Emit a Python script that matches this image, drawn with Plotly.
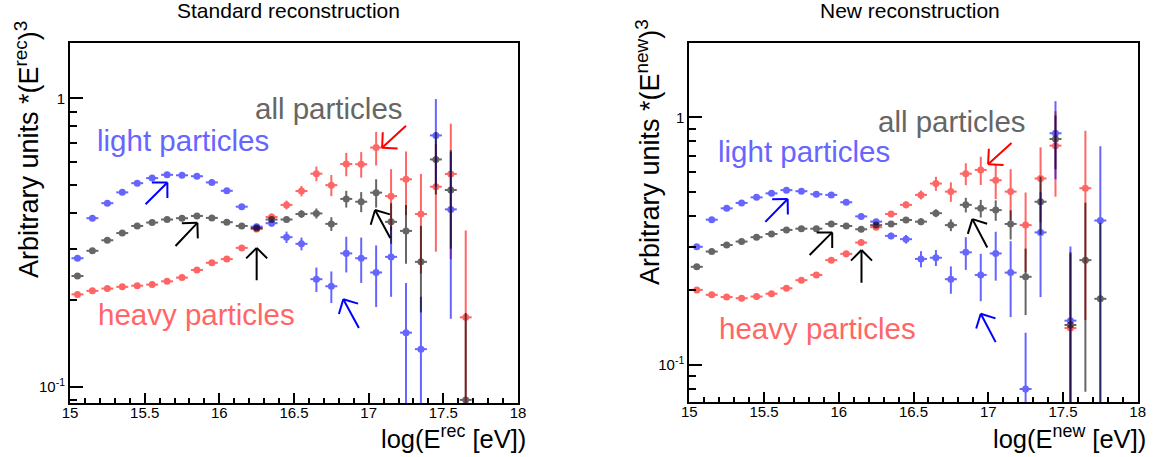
import numpy as np
import plotly.graph_objects as go

# ---------------- data ----------------
E_std = [15.05, 15.15, 15.25, 15.35, 15.45, 15.55, 15.65, 15.75, 15.85, 15.95,
         16.05, 16.15, 16.25, 16.35, 16.45, 16.55, 16.65, 16.75, 16.85, 16.95,
         17.05, 17.15, 17.25, 17.35, 17.45, 17.55, 17.65]
light_std = [0.279, 0.384, 0.433, 0.472, 0.508, 0.529, 0.543, 0.541, 0.537, 0.511,
             0.478, 0.421, 0.359, 0.369, 0.330, 0.313, 0.236, 0.223, 0.290, 0.279,
             0.249, 0.282, 0.154, 0.135, 0.744, 0.412, None]
light_std_err = [0.004, 0.004, 0.004, 0.004, 0.004, 0.004, 0.004, 0.004, 0.004, 0.004,
                 0.005, 0.006, 0.008, 0.010, 0.015, 0.016, 0.023, 0.028, 0.041, 0.050,
                 0.060, 0.077, 0.075, 0.070, 0.250, 0.240, 0]
heavy_std = [0.209, 0.215, 0.219, 0.222, 0.224, 0.226, 0.232, 0.239, 0.254, 0.269,
             0.277, 0.303, 0.352, 0.388, 0.427, 0.477, 0.548, 0.500, 0.592, 0.591,
             0.675, 0.458, 0.524, 0.397, 0.494, 0.547, 0.174]
heavy_std_err = [0.003, 0.003, 0.003, 0.003, 0.003, 0.003, 0.003, 0.003, 0.003, 0.003,
                 0.004, 0.005, 0.007, 0.010, 0.015, 0.020, 0.032, 0.042, 0.055, 0.060,
                 0.090, 0.110, 0.130, 0.150, 0.200, 0.270, 0.174]
all_std = [0.242, 0.296, 0.322, 0.341, 0.361, 0.371, 0.380, 0.384, 0.391, 0.385,
           0.372, 0.361, 0.355, 0.380, 0.380, 0.397, 0.399, 0.367, 0.448, 0.438,
           0.471, 0.373, 0.347, 0.271, 0.614, 0.481, 0.090]
all_std_err = [0.003, 0.003, 0.003, 0.003, 0.003, 0.003, 0.003, 0.003, 0.003, 0.003,
               0.003, 0.004, 0.005, 0.006, 0.008, 0.012, 0.016, 0.020, 0.030, 0.035,
               0.053, 0.060, 0.080, 0.090, 0.150, 0.180, 0.090]

E_new = [15.05, 15.15, 15.25, 15.35, 15.45, 15.55, 15.65, 15.75, 15.85, 15.95,
         16.05, 16.15, 16.25, 16.35, 16.45, 16.55, 16.65, 16.75, 16.85, 16.95,
         17.05, 17.15, 17.25, 17.35, 17.45, 17.55, 17.65, 17.75]
light_new = [0.300, 0.386, 0.429, 0.451, 0.475, 0.493, 0.508, 0.503, 0.489, 0.486,
             0.454, 0.398, 0.379, 0.332, 0.322, 0.268, 0.271, 0.222, 0.285, 0.231,
             0.282, 0.236, 0.080, 0.343, 0.862, 0.151, None, 0.383]
light_new_err = [0.004, 0.004, 0.004, 0.004, 0.004, 0.004, 0.004, 0.004, 0.004, 0.004,
                 0.005, 0.006, 0.007, 0.010, 0.013, 0.020, 0.020, 0.028, 0.043, 0.050,
                 0.063, 0.080, 0.055, 0.155, 0.300, 0.150, 0, 0.380]
heavy_new = [0.201, 0.192, 0.188, 0.186, 0.189, 0.194, 0.204, 0.220, 0.231, 0.265,
             0.281, 0.312, 0.360, 0.407, 0.443, 0.486, 0.540, 0.501, 0.592, 0.613,
             0.557, 0.501, 0.367, 0.566, 0.768, 0.141, 0.517, None]
heavy_new_err = [0.003, 0.003, 0.003, 0.003, 0.003, 0.003, 0.003, 0.003, 0.003, 0.003,
                 0.004, 0.005, 0.007, 0.010, 0.014, 0.020, 0.035, 0.045, 0.060, 0.080,
                 0.090, 0.116, 0.130, 0.190, 0.290, 0.140, 0.365, 0]
all_new = [0.249, 0.287, 0.305, 0.315, 0.328, 0.338, 0.351, 0.355, 0.355, 0.371,
           0.364, 0.353, 0.367, 0.371, 0.385, 0.379, 0.410, 0.367, 0.443, 0.429,
           0.422, 0.371, 0.227, 0.456, 0.817, 0.145, 0.265, 0.185]
all_new_err = [0.003, 0.003, 0.003, 0.003, 0.003, 0.003, 0.003, 0.003, 0.003, 0.003,
               0.003, 0.004, 0.005, 0.006, 0.008, 0.012, 0.015, 0.020, 0.030, 0.035,
               0.040, 0.050, 0.068, 0.120, 0.200, 0.140, 0.187, 0.190]

x_ticks = [15, 15.5, 16, 16.5, 17, 17.5, 18]
x_tick_labels = ["15", "15.5", "16", "16.5", "17", "17.5", "18"]

# arrows: (tail E, tail value, head E, head value, colour)
arrows_std = [
    (15.496, 0.424, 15.652, 0.511, "#0000ff"),
    (15.697, 0.304, 15.853, 0.370, "#000000"),
    (16.25, 0.231, 16.25, 0.303, "#000000"),
    (16.94, 0.158, 16.83, 0.201, "#0000ff"),
    (17.15, 0.324, 17.043, 0.410, "#000000"),
    (17.26, 0.812, 17.09, 0.674, "#ff0000"),
]
arrows_new = [
    (15.499, 0.373, 15.658, 0.468, "#0000ff"),
    (15.795, 0.274, 15.956, 0.343, "#000000"),
    (16.152, 0.212, 16.152, 0.291, "#000000"),
    (16.999, 0.294, 16.894, 0.388, "#000000"),
    (17.055, 0.122, 16.95, 0.161, "#0000ff"),
    (17.166, 0.797, 16.999, 0.646, "#ff0000"),
]

FONT = "Liberation Sans, Arial, Helvetica, sans-serif"
C_LIGHT, C_HEAVY, C_ALL = "#0000ff", "#ff0000", "#000000"

W, H = 1158, 457
X_DOM_STD = [70 / W, 518 / W]
Y_DOM_STD = [1 - 403 / H, 1 - 42.7 / H]
Y_RNG_STD = [-1.0565, 0.193]
X_DOM_NEW = [689.3 / W, 1137.7 / W]
Y_DOM_NEW = [1 - 402.3 / H, 1 - 42.7 / H]
Y_RNG_NEW = [-1.1506, 0.301]
X_RNG = [15, 18]

fig = go.Figure()


def add_series(E, vals, errs, color, xa, ya):
    fig.add_trace(go.Scatter(
        x=E, y=vals, mode="markers", xaxis=xa, yaxis=ya, opacity=0.6,
        marker=dict(color=color, size=7),
        error_y=dict(type="data", array=errs, visible=True, color=color,
                     thickness=2, width=0),
        error_x=dict(type="constant", value=0.04, visible=True, copy_ystyle=False,
                     color=color, thickness=2, width=0),
        showlegend=False, hoverinfo="skip"))


add_series(E_std, heavy_std, heavy_std_err, C_HEAVY, "x", "y")
add_series(E_std, light_std, light_std_err, C_LIGHT, "x", "y")
add_series(E_std, all_std, all_std_err, C_ALL, "x", "y")
add_series(E_new, heavy_new, heavy_new_err, C_HEAVY, "x2", "y2")
add_series(E_new, light_new, light_new_err, C_LIGHT, "x2", "y2")
add_series(E_new, all_new, all_new_err, C_ALL, "x2", "y2")

minor_std = [0.09, 0.2, 0.3, 0.4, 0.5, 0.6, 0.7, 0.8, 0.9]
minor_new = [0.08, 0.09, 0.2, 0.3, 0.4, 0.5, 0.6, 0.7, 0.8, 0.9]


def xaxis_cfg(domain, anchor):
    return dict(domain=domain, anchor=anchor, range=X_RNG, showgrid=False,
                automargin=False,
                zeroline=False, showline=True, linecolor="black", linewidth=2,
                mirror=True, ticks="inside", ticklen=10, tickwidth=1.5, tickcolor="black",
                tickmode="array", tickvals=x_ticks, ticktext=x_tick_labels,
                ticklabelstandoff=-5,
                tickfont=dict(family=FONT, size=15, color="black"),
                minor=dict(ticks="inside", ticklen=5, tickwidth=1.5, tickcolor="black",
                           dtick=0.1, tick0=15, showgrid=False))


def yaxis_cfg(domain, anchor, rng, minor_vals):
    return dict(domain=domain, anchor=anchor, type="log", range=rng, showgrid=False,
                automargin=False,
                zeroline=False, showline=True, linecolor="black", linewidth=2,
                mirror=True, ticks="inside", ticklen=13, tickwidth=1.5, tickcolor="black",
                tickmode="array", tickvals=[0.1, 1], ticktext=["10<sup>-1</sup>", "1"],
                tickfont=dict(family=FONT, size=15, color="black"),
                minor=dict(ticks="inside", ticklen=7, tickwidth=1.5, tickcolor="black",
                           tickmode="array", tickvals=minor_vals, showgrid=False))


fig.update_layout(
    width=W, height=H, margin=dict(l=0, r=0, t=0, b=0, pad=0, autoexpand=False),
    paper_bgcolor="white", plot_bgcolor="white",
    font=dict(family=FONT, color="black"),
    xaxis=xaxis_cfg(X_DOM_STD, "y"),
    yaxis=yaxis_cfg(Y_DOM_STD, "x", Y_RNG_STD, minor_std),
    xaxis2=xaxis_cfg(X_DOM_NEW, "y2"),
    yaxis2=yaxis_cfg(Y_DOM_NEW, "x2", Y_RNG_NEW, minor_new),
)

ann = []


def add_arrows(arrs, xr, yr, xdom, ydom, yrng):
    # pixel scales of the panel (used only to orient the open arrow heads)
    sx = (xdom[1] - xdom[0]) * W / (X_RNG[1] - X_RNG[0])
    sy = (ydom[1] - ydom[0]) * H / (yrng[1] - yrng[0])
    head_len = 17.0
    for (tx, tv, hx, hv, col) in arrs:
        hy, ty = np.log10(hv), np.log10(tv)
        # shaft
        ann.append(dict(x=hx, y=hy, ax=tx, ay=ty, xref=xr, yref=yr, axref=xr, ayref=yr,
                        text="", showarrow=True, arrowhead=0, arrowwidth=2,
                        arrowcolor=col, standoff=0, startstandoff=0))
        # direction head->tail in screen pixels (y down)
        dx = (tx - hx) * sx
        dy = -(ty - hy) * sy
        n = np.hypot(dx, dy)
        ux, uy = dx / n, dy / n
        for ang in (np.pi / 4, -np.pi / 4):
            c, s = np.cos(ang), np.sin(ang)
            ox = (ux * c - uy * s) * head_len
            oy = (ux * s + uy * c) * head_len
            ann.append(dict(x=hx, y=hy, ax=float(ox), ay=float(oy), xref=xr, yref=yr,
                            text="", showarrow=True, arrowhead=0, arrowwidth=2,
                            arrowcolor=col, standoff=0, startstandoff=0))


add_arrows(arrows_std, "x", "y", X_DOM_STD, Y_DOM_STD, Y_RNG_STD)
add_arrows(arrows_new, "x2", "y2", X_DOM_NEW, Y_DOM_NEW, Y_RNG_NEW)

# labels inside plots
labels = [
    ("light particles", 15.167, -0.1446, "#6666ff", "x", "y"),
    ("all particles", 16.226, -0.0336, "#666666", "x", "y"),
    ("heavy particles", 15.174, -0.751, "#ff6666", "x", "y"),
    ("light particles", 15.178, -0.140, "#6666ff", "x2", "y2"),
    ("all particles", 16.248, -0.019, "#666666", "x2", "y2"),
    ("heavy particles", 15.185, -0.851, "#ff6666", "x2", "y2"),
]
for (t, xv, yv, col, xr, yr) in labels:
    ann.append(dict(x=xv, y=yv, xref=xr, yref=yr, text=t, showarrow=False,
                    xanchor="left", yanchor="middle",
                    font=dict(family=FONT, size=29.5, color=col)))

# titles
ann.append(dict(x=288 / W, y=1 - 11 / H, xref="paper", yref="paper", showarrow=False,
                text="Standard reconstruction", xanchor="center", yanchor="middle",
                font=dict(family=FONT, size=21, color="black")))
ann.append(dict(x=910 / W, y=1 - 11 / H, xref="paper", yref="paper", showarrow=False,
                text="New reconstruction", xanchor="center", yanchor="middle",
                font=dict(family=FONT, size=21, color="black")))
# axis titles
ann.append(dict(x=27 / W, y=1 - 150 / H, xref="paper", yref="paper", showarrow=False,
                text="Arbitrary units *(E<sup>rec</sup>)<sup>3</sup>", textangle=-90,
                xanchor="center", yanchor="middle",
                font=dict(family=FONT, size=27, color="black")))
ann.append(dict(x=648 / W, y=1 - 152 / H, xref="paper", yref="paper", showarrow=False,
                text="Arbitrary units *(E<sup>new</sup>)<sup>3</sup>", textangle=-90,
                xanchor="center", yanchor="middle",
                font=dict(family=FONT, size=27, color="black")))
ann.append(dict(x=528 / W, y=1 - 437 / H, xref="paper", yref="paper", showarrow=False,
                text="log(E<sup>rec</sup> [eV])", xanchor="right", yanchor="middle",
                font=dict(family=FONT, size=25.5, color="black")))
ann.append(dict(x=1148 / W, y=1 - 437 / H, xref="paper", yref="paper", showarrow=False,
                text="log(E<sup>new</sup> [eV])", xanchor="right", yanchor="middle",
                font=dict(family=FONT, size=25.5, color="black")))

fig.update_layout(annotations=ann)
fig.write_html("out.html")
